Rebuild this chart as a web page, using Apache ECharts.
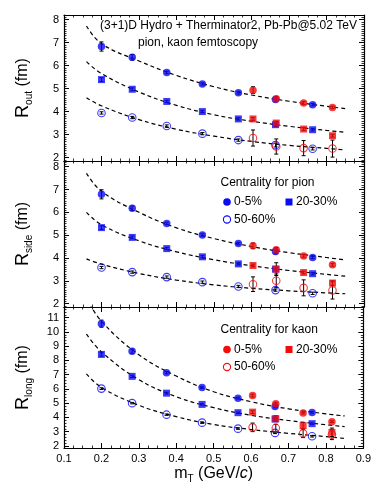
<!DOCTYPE html>
<html><head><meta charset="utf-8">
<script src="https://cdn.jsdelivr.net/npm/echarts@6/dist/echarts.min.js"></script>
<style>html,body{margin:0;padding:0;background:#fff}#c{width:374px;height:485px}</style>
</head><body><div id="c"></div><script>
// ---------- data ----------
const mTPion = [0.200, 0.282, 0.374, 0.469, 0.565, 0.664, 0.763];
const mTKaon = [0.604, 0.666, 0.739, 0.816];
const mTFit  = [0.16, 0.20, 0.30, 0.40, 0.50, 0.60, 0.70, 0.80, 0.85];
const centralities = ['0-5%', '20-30%', '50-60%'];
const xTickLabels = ['0.1','0.2','0.3','0.4','0.5','0.6','0.7','0.8','0.9'];

// R_out
const routPion0_5   = [6.83, 6.36, 5.70, 5.20, 4.82, 4.53, 4.30];
const routPion20_30 = [5.39, 4.97, 4.44, 4.00, 3.68, 3.43, 3.21];
const routPion50_60 = [3.94, 3.74, 3.37, 3.04, 2.76, 2.54, 2.38];
const routKaon0_5   = [4.93, 4.56, 4.37, 4.18];
const routKaon20_30 = [3.68, 3.50, 3.24, 2.95];
const routKaon50_60 = [2.85, 2.48, 2.41, 2.39];
const routPionErr0_5   = [0.20, 0.12, 0.05, 0.05, 0.06, 0.10, 0.05];
const routPionErr20_30 = [0.08, 0.06, 0.05, 0.05, 0.05, 0.08, 0.05];
const routPionErr50_60 = [0.05, 0.05, 0.05, 0.05, 0.05, 0.08, 0.05];
const routKaonErr0_5   = [0.15, 0.10, 0.06, 0.05];
const routKaonErr20_30 = [0.06, 0.08, 0.06, 0.06];
const routKaonErr50_60 = [0.35, 0.33, 0.33, 0.37];
const routFit0_5   = [7.72, 6.95, 6.20, 5.57, 5.08, 4.72, 4.45, 4.23, 4.13];
const routFit20_30 = [6.17, 5.65, 4.85, 4.27, 3.86, 3.58, 3.36, 3.18, 3.10];
const routFit50_60 = [4.60, 4.25, 3.65, 3.23, 2.93, 2.70, 2.53, 2.40, 2.33];

// R_side
const sidePion0_5   = [6.79, 6.18, 5.51, 5.01, 4.63, 4.28, 4.02];
const sidePion20_30 = [5.33, 4.90, 4.41, 4.05, 3.74, 3.51, 3.31];
const sidePion50_60 = [3.58, 3.38, 3.16, 2.94, 2.75, 2.59, 2.45];
const sideKaon0_5   = [4.53, 4.36, 4.09, 3.70];
const sideKaon20_30 = [3.67, 3.51, 3.36, 2.90];
const sideKaon50_60 = [2.85, 3.00, 2.69, 2.58];
const sidePionErr0_5   = [0.20, 0.10, 0.05, 0.05, 0.05, 0.10, 0.05];
const sidePionErr20_30 = [0.08, 0.06, 0.05, 0.05, 0.05, 0.05, 0.05];
const sidePionErr50_60 = [0.05, 0.05, 0.05, 0.05, 0.05, 0.05, 0.05];
const sideKaonErr0_5   = [0.12, 0.10, 0.06, 0.06];
const sideKaonErr20_30 = [0.06, 0.28, 0.06, 0.10];
const sideKaonErr50_60 = [0.32, 0.30, 0.35, 0.38];
const sideFit0_5   = [7.71, 6.92, 6.00, 5.32, 4.85, 4.50, 4.23, 4.02, 3.91];
const sideFit20_30 = [6.00, 5.45, 4.75, 4.27, 3.92, 3.66, 3.45, 3.28, 3.20];
const sideFit50_60 = [3.96, 3.73, 3.32, 3.03, 2.82, 2.67, 2.56, 2.47, 2.43];

// R_long
const longPion0_5   = [10.58, 8.65, 7.14, 6.09, 5.35, 4.77, 4.35];
const longPion20_30 = [8.42, 6.88, 5.70, 4.91, 4.33, 3.88, 3.56];
const longPion50_60 = [6.02, 5.00, 4.19, 3.63, 3.21, 2.91, 2.67];
const longKaon0_5   = [5.53, 4.95, 4.30, 3.70];
const longKaon20_30 = [4.37, 3.91, 3.42, 2.95];
const longKaon50_60 = [3.30, 3.26, 2.88, 2.79];
const longPionErr0_5   = [0.25, 0.15, 0.08, 0.06, 0.06, 0.10, 0.06];
const longPionErr20_30 = [0.12, 0.08, 0.06, 0.05, 0.05, 0.08, 0.05];
const longPionErr50_60 = [0.06, 0.05, 0.05, 0.05, 0.05, 0.05, 0.05];
const longKaonErr0_5   = [0.10, 0.10, 0.06, 0.06];
const longKaonErr20_30 = [0.10, 0.20, 0.22, 0.30];
const longKaonErr50_60 = [0.30, 0.25, 0.30, 0.35];
const longFit0_5   = [12.40, 10.75, 8.40, 6.90, 5.80, 5.10, 4.60, 4.25, 4.10];
const longFit20_30 = [9.84, 8.60, 6.65, 5.45, 4.68, 4.15, 3.78, 3.48, 3.35];
const longFit50_60 = [7.05, 6.10, 4.85, 4.05, 3.50, 3.15, 2.88, 2.65, 2.52];

// ---------- chart ----------
const FONT = '"Liberation Sans", Arial, Helvetica, sans-serif';
const BLUE = '#0b0bf5';
const RED = '#f50b0b';

const panels = [
  {sub:'out', top:15, height:146, min:1.85, max:8.2, minorSplit:10,
   pion:[routPion0_5, routPion20_30, routPion50_60], kaon:[routKaon0_5, routKaon20_30, routKaon50_60],
   pionErr:[routPionErr0_5, routPionErr20_30, routPionErr50_60], kaonErr:[routKaonErr0_5, routKaonErr20_30, routKaonErr50_60],
   fits:[routFit0_5, routFit20_30, routFit50_60]},
  {sub:'side', top:161, height:146, min:1.85, max:8.25, minorSplit:10,
   pion:[sidePion0_5, sidePion20_30, sidePion50_60], kaon:[sideKaon0_5, sideKaon20_30, sideKaon50_60],
   pionErr:[sidePionErr0_5, sidePionErr20_30, sidePionErr50_60], kaonErr:[sideKaonErr0_5, sideKaonErr20_30, sideKaonErr50_60],
   fits:[sideFit0_5, sideFit20_30, sideFit50_60]},
  {sub:'long', top:307, height:143, min:1.85, max:11.75, minorSplit:5,
   pion:[longPion0_5, longPion20_30, longPion50_60], kaon:[longKaon0_5, longKaon20_30, longKaon50_60],
   pionErr:[longPionErr0_5, longPionErr20_30, longPionErr50_60], kaonErr:[longKaonErr0_5, longKaonErr20_30, longKaonErr50_60],
   fits:[longFit0_5, longFit20_30, longFit50_60]}
];

const axisLine = {show:true, onZero:false, lineStyle:{color:'#000', width:1.2}};
const axisTick = {show:true, inside:true, length:5, lineStyle:{color:'#000', width:1}};

const grids = [], xAxes = [], yAxes = [], series = [];

function errItem(params, api) {
  const x = api.value(0), y = api.value(1), e = api.value(2);
  const lo = api.coord([x, y - e]), hi = api.coord([x, y + e]);
  const cw = 2, st = {stroke:'#000', lineWidth:1};
  return {type:'group', children:[
    {type:'line', shape:{x1:lo[0], y1:lo[1], x2:hi[0], y2:hi[1]}, style:st},
    {type:'line', shape:{x1:lo[0]-cw, y1:lo[1], x2:lo[0]+cw, y2:lo[1]}, style:st},
    {type:'line', shape:{x1:hi[0]-cw, y1:hi[1], x2:hi[0]+cw, y2:hi[1]}, style:st}
  ]};
}

const symbols = ['circle', 'rect', 'circle'];
const sizes = [7.5, 7, 7.5];

panels.forEach((p, i) => {
  const last = i === panels.length - 1;
  grids.push({left:64, right:10, top:p.top, height:p.height});
  const xBase = {type:'value', gridIndex:i, min:0.1, max:0.9, interval:0.1,
    axisLine, axisTick, splitLine:{show:false},
    minorTick:{show:true, splitNumber:4, length:2.5, lineStyle:{color:'#000', width:0.8}}};
  xAxes.push(Object.assign({}, xBase, {position:'bottom',
    axisLabel: last ? {show:true, fontSize:11, color:'#000', margin:5, fontFamily:FONT,
      formatter: v => xTickLabels[Math.round((v - 0.1) * 10)]} : {show:false},
    name: last ? '{m|m}{s|T}{m| (GeV/}{i|c}{m|)}' : '', nameLocation:'middle', nameGap:16,
    nameTextStyle:{fontFamily:FONT, color:'#000', rich:{
      m:{fontSize:16, lineHeight:20, fontFamily:FONT, color:'#000'},
      i:{fontSize:16, lineHeight:20, fontStyle:'italic', fontFamily:FONT, color:'#000'},
      s:{fontSize:10, lineHeight:10, verticalAlign:'bottom', fontFamily:FONT, color:'#000'}}}}));
  xAxes.push(Object.assign({}, xBase, {position:'top', axisLabel:{show:false}}));
  const yBase = {type:'value', gridIndex:i, min:p.min, max:p.max, splitNumber:10,
    minInterval:1, maxInterval:1, axisLine, axisTick, splitLine:{show:false},
    minorTick:{show:true, splitNumber:p.minorSplit, length:2.5, lineStyle:{color:'#000', width:0.8}}};
  yAxes.push(Object.assign({}, yBase, {position:'left',
    axisLabel:{show:true, fontSize:11, color:'#000', margin:5, fontFamily:FONT, showMinLabel:false, showMaxLabel:false},
    name:'{r|R}{s|' + p.sub + '}{f| (fm)}', nameLocation:'middle', nameRotate:90, nameGap:30,
    nameTextStyle:{fontFamily:FONT, color:'#000', rich:{
      r:{fontSize:18, lineHeight:22, fontFamily:FONT, color:'#000'},
      f:{fontSize:16, lineHeight:22, fontFamily:FONT, color:'#000'},
      s:{fontSize:10, lineHeight:10, verticalAlign:'bottom', fontFamily:FONT, color:'#000'}}}}));
  yAxes.push(Object.assign({}, yBase, {position:'right', axisLabel:{show:false}}));

  // fits
  p.fits.forEach((f, k) => {
    series.push({type:'line', xAxisIndex:2*i, yAxisIndex:2*i, data:mTFit.map((x, j) => [x, f[j]]),
      smooth:0.4, symbol:'none', silent:true, clip:true, z:2,
      lineStyle:{color:'#000', width:1.2, type:[4, 3]}});
  });
  // error bars
  [[mTPion, p.pion, p.pionErr], [mTKaon, p.kaon, p.kaonErr]].forEach(([xs, vals, errs]) => {
    vals.forEach((v, k) => {
      series.push({type:'custom', xAxisIndex:2*i, yAxisIndex:2*i, renderItem:errItem, silent:true, z:3,
        encode:{x:0, y:1}, data:xs.map((x, j) => [x, v[j], errs[k][j]])});
    });
  });
  // markers
  [[mTPion, p.pion, BLUE, 'pion'], [mTKaon, p.kaon, RED, 'kaon']].forEach(([xs, vals, col, nm]) => {
    vals.forEach((v, k) => {
      const open = k === 2;
      series.push({type:'scatter', name: nm + ' ' + centralities[k], xAxisIndex:2*i, yAxisIndex:2*i,
        symbol:symbols[k], symbolSize:sizes[k], z:4, silent:true,
        itemStyle: open ? {color:'rgba(255,255,255,0)', borderColor:col, borderWidth:1.1}
                        : {color:col, borderWidth:0},
        data:xs.map((x, j) => [x, v[j]])});
    });
  });
});

function legendBlock(title, top, col) {
  const t = {fill:'#000', font:'12px ' + FONT, verticalAlign:'middle', align:'left'};
  return [
    {type:'text', x:220.5, y:top, style:Object.assign({text:title}, t)},
    {type:'circle', shape:{cx:227, cy:top + 19.5, r:3.8}, style:{fill:col}},
    {type:'text', x:234, y:top + 19.5, style:Object.assign({text:centralities[0]}, t)},
    {type:'rect', shape:{x:285.5, y:top + 16, width:7, height:7}, style:{fill:col}},
    {type:'text', x:296, y:top + 19.5, style:Object.assign({text:centralities[1]}, t)},
    {type:'circle', shape:{cx:227, cy:top + 37, r:3.6}, style:{fill:'none', stroke:col, lineWidth:1.1}},
    {type:'text', x:234, y:top + 37, style:Object.assign({text:centralities[2]}, t)}
  ];
}

const graphic = [
  {type:'text', x:100, y:26, style:{text:'(3+1)D Hydro + Therminator2, Pb-Pb@5.02 TeV', fill:'#000', font:'12px ' + FONT, verticalAlign:'middle'}},
  {type:'text', x:138, y:43, style:{text:'pion, kaon femtoscopy', fill:'#000', font:'12px ' + FONT, verticalAlign:'middle'}}
].concat(legendBlock('Centrality for pion', 182.5, BLUE))
 .concat(legendBlock('Centrality for kaon', 330, RED));

const chart = echarts.init(document.getElementById('c'), null, {renderer:'canvas'});
chart.setOption({
  animation:false,
  backgroundColor:'#fff',
  textStyle:{fontFamily:FONT},
  grid:grids, xAxis:xAxes, yAxis:yAxes, series, graphic
});
</script></body></html>
